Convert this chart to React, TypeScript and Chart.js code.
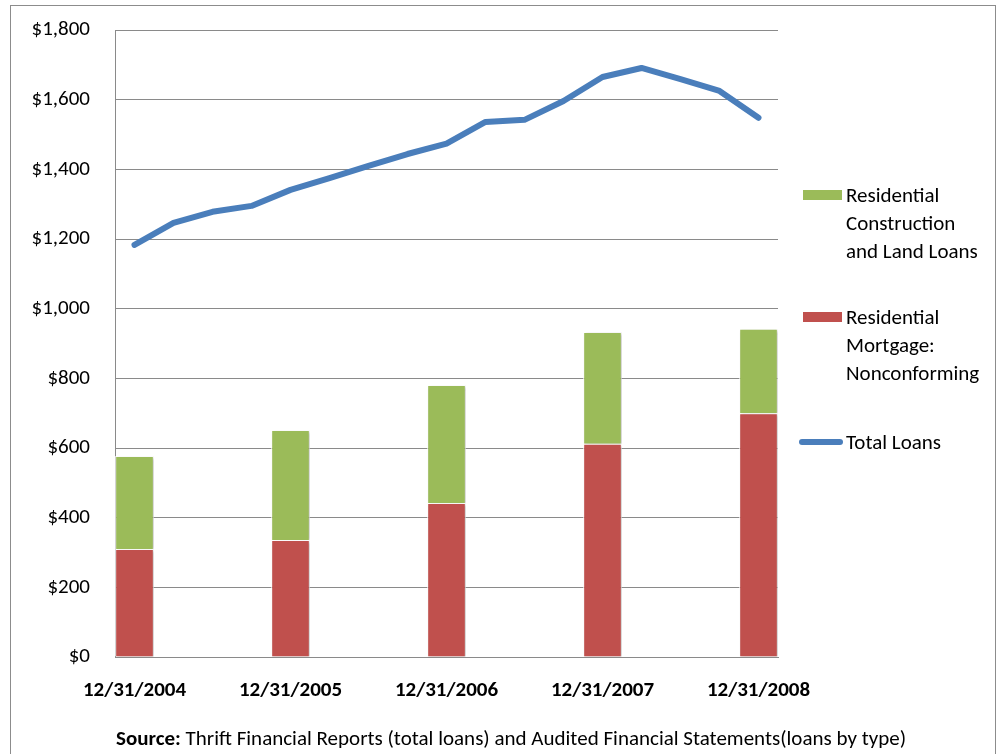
import React, { useEffect, useRef } from "react";
import { Chart, registerables } from "chart.js";

Chart.register(...registerables);

const quarters = [
  "12/31/2004", "3/31/2005", "6/30/2005", "9/30/2005",
  "12/31/2005", "3/31/2006", "6/30/2006", "9/30/2006",
  "12/31/2006", "3/31/2007", "6/30/2007", "9/30/2007",
  "12/31/2007", "3/31/2008", "6/30/2008", "9/30/2008",
  "12/31/2008",
];
const yearEnds = ["12/31/2004", "12/31/2005", "12/31/2006", "12/31/2007", "12/31/2008"];
const nonconforming = [310, 336, 442, 612, 700];
const constructionLand = [267, 316, 339, 321, 242];
const totalLoans = [1183, 1246, 1278, 1295, 1341, 1375, 1410, 1444, 1474, 1536, 1542, 1596, 1665, 1691, 1659, 1625, 1548];
const yTicks = [0, 200, 400, 600, 800, 1000, 1200, 1400, 1600, 1800];

const FONT = "Carlito, Lato, 'Liberation Sans', sans-serif";
const GREEN = "#9BBB59";
const RED = "#C0504D";
const BLUE = "#4A7EBB";
const GRID = "#8a8a8a";

function spread(vals: number[]) {
  return quarters.map((q) => {
    const i = yearEnds.indexOf(q);
    return i >= 0 ? vals[i] : null;
  });
}

const barShadow = {
  id: "barShadow",
  beforeDatasetDraw(chart: any, args: any) {
    if (chart.data.datasets[args.index].type === "line") return;
    const ctx = chart.ctx;
    ctx.save();
    ctx.shadowColor = "rgba(0,0,0,0.22)";
    ctx.shadowBlur = 3;
    ctx.shadowOffsetX = 2;
    ctx.shadowOffsetY = 1;
  },
  afterDatasetDraw(chart: any, args: any) {
    if (chart.data.datasets[args.index].type === "line") return;
    chart.ctx.restore();
  },
};

export default function App() {
  const ref = useRef<HTMLCanvasElement | null>(null);
  useEffect(() => {
    if (!ref.current) return;
    const chart = new Chart(ref.current, {
      type: "bar",
      data: {
        labels: quarters,
        datasets: [
          {
            type: "line",
            label: "Total Loans",
            data: totalLoans,
            borderColor: BLUE,
            backgroundColor: BLUE,
            borderWidth: 6,
            pointRadius: 0,
            tension: 0,
            borderCapStyle: "round",
            borderJoinStyle: "round",
            stack: "line",
          } as any,
          {
            label: "Residential Mortgage: Nonconforming",
            data: spread(nonconforming),
            backgroundColor: RED,
            borderColor: "#ffffff",
            borderWidth: 1,
            stack: "bars",
            barPercentage: 1,
            categoryPercentage: 0.99,
          } as any,
          {
            label: "Residential Construction and Land Loans",
            data: spread(constructionLand),
            backgroundColor: GREEN,
            borderColor: "#ffffff",
            borderWidth: 1,
            stack: "bars",
            barPercentage: 1,
            categoryPercentage: 0.99,
          } as any,
        ],
      },
      options: {
        responsive: false,
        animation: false,
        layout: { padding: { left: 0, right: 220, top: 30, bottom: 57 } },
        plugins: { legend: { display: false }, tooltip: { enabled: false } },
        scales: {
          x: {
            stacked: true,
            afterFit: (s: any) => { s.height = 40; },
            grid: { display: false, drawTicks: false },
            border: { display: true, color: GRID, width: 1 },
            ticks: {
              autoSkip: false,
              maxRotation: 0,
              padding: 21,
              color: "#000",
              font: { family: FONT, size: 21, weight: "bold" },
              callback: (_v: any, i: number) => (yearEnds.includes(quarters[i]) ? quarters[i] : ""),
            },
          },
          y: {
            stacked: true,
            min: 0,
            max: 1800,
            afterFit: (s: any) => { s.width = 115; s.paddingTop = 0; s.paddingBottom = 0; },
            afterBuildTicks: (s: any) => { s.ticks = yTicks.map((v) => ({ value: v })); },
            grid: { color: GRID, lineWidth: 1, drawTicks: false },
            border: { display: true, color: GRID, width: 1 },
            ticks: {
              padding: 25,
              color: "#000",
              font: { family: FONT, size: 21 },
              callback: (v: any) => "$" + Number(v).toLocaleString("en-US"),
            },
          },
        },
      },
      plugins: [barShadow],
    });
    return () => chart.destroy();
  }, []);

  const legendText: React.CSSProperties = {
    position: "absolute",
    left: 846,
    fontFamily: FONT,
    fontSize: 21,
    lineHeight: "28px",
    color: "#000",
    whiteSpace: "nowrap",
  };

  return (
    <div style={{ position: "absolute", left: 0, top: 0, width: 998, height: 754, overflow: "hidden", background: "#fff" }}>
      <div style={{ position: "absolute", left: 10, top: 5, width: 986, height: 800, border: "1px solid #8c8c8c", boxSizing: "border-box" }} />
      <canvas ref={ref} width={998} height={754} style={{ position: "absolute", left: 0, top: 0, width: 998, height: 754 }} />
      <div style={{ position: "absolute", left: 803, top: 190, width: 39, height: 10, background: GREEN }} />
      <div style={{ ...legendText, top: 181 }}>Residential<br />Construction<br />and Land Loans</div>
      <div style={{ position: "absolute", left: 803, top: 312, width: 39, height: 10, background: RED }} />
      <div style={{ ...legendText, top: 303 }}>Residential<br />Mortgage:<br />Nonconforming</div>
      <div style={{ position: "absolute", left: 799, top: 439, width: 44, height: 6, borderRadius: 3, background: BLUE }} />
      <div style={{ ...legendText, top: 428 }}>Total Loans</div>
      <div style={{ position: "absolute", left: 116, top: 725, fontFamily: FONT, fontSize: 21, lineHeight: "26px", color: "#000", whiteSpace: "nowrap" }}>
        <b>Source:</b> Thrift Financial Reports (total loans) and Audited Financial Statements(loans by type)
      </div>
    </div>
  );
}
